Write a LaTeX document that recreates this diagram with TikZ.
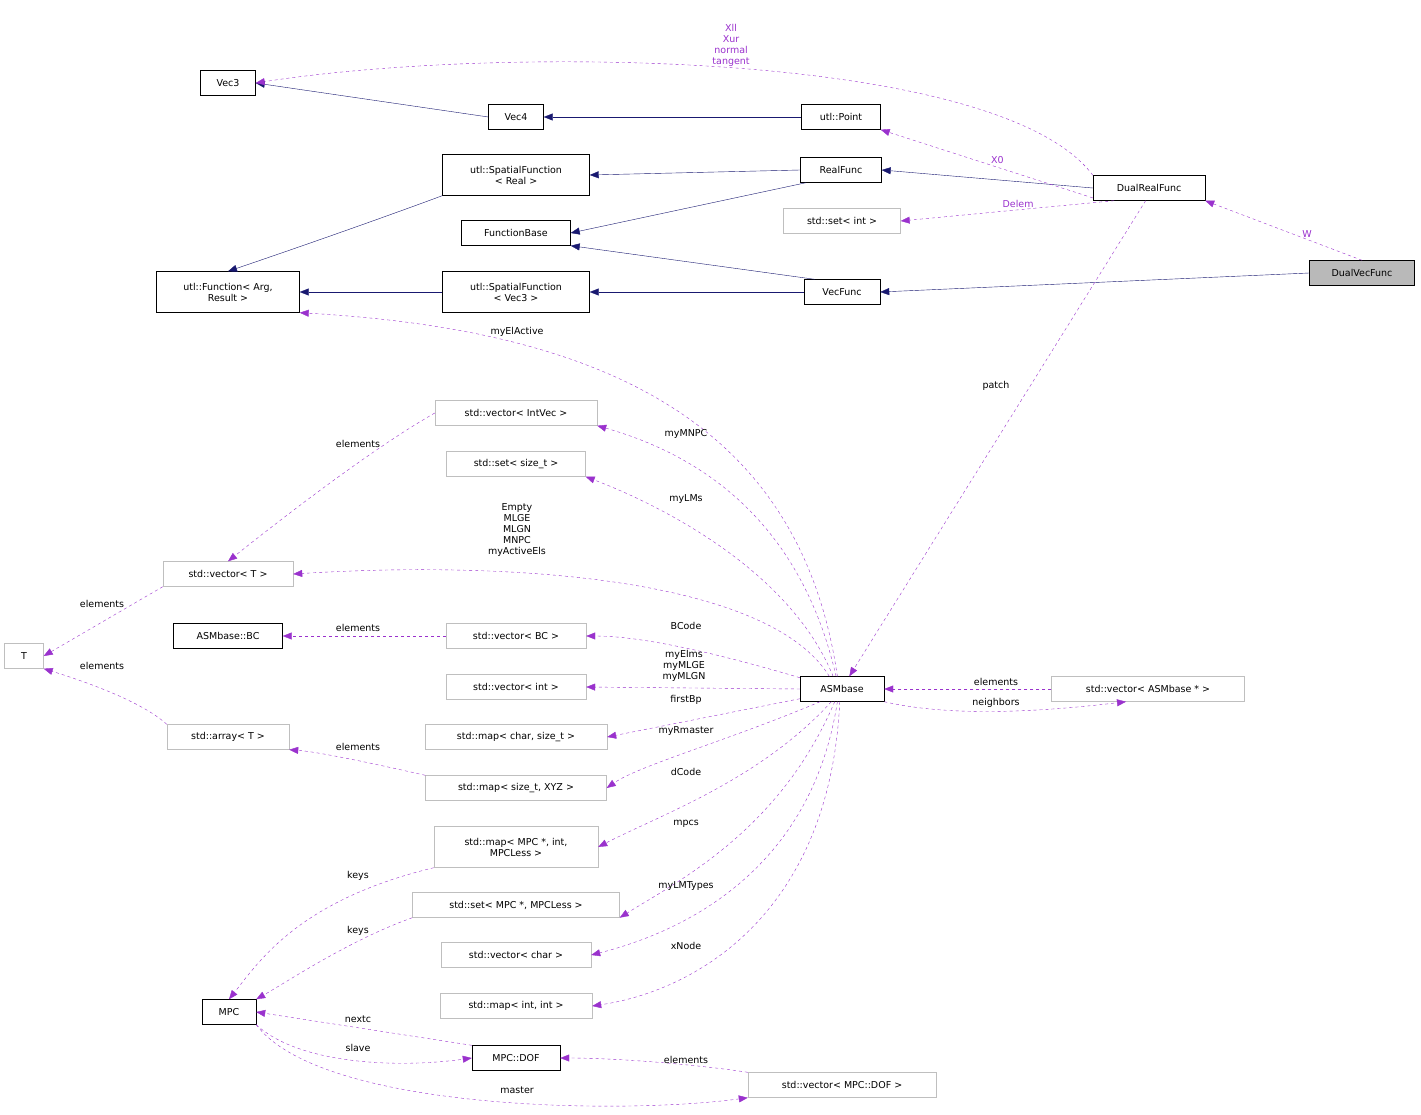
\documentclass[tikz,border=0pt]{standalone}
\usepackage{fontspec}
\setmainfont{DejaVu Sans}
\usetikzlibrary{arrows.meta}
\definecolor{navy}{HTML}{191970}
\definecolor{orch}{HTML}{9A32CD}
\definecolor{gbord}{HTML}{BFBFBF}
\begin{document}
\begin{tikzpicture}[x=1pt,y=-1pt,
  font=\fontsize{9.5}{11}\selectfont,
  cls/.style={draw=black,fill=white,minimum height=25pt,inner sep=2pt,align=center},
  ext/.style={cls,draw=gbord},
  inh/.style={navy,-{Triangle[length=9pt,width=7pt]}},
  use/.style={orch,dashed,-{Triangle[length=9pt,width=7pt]}},
  lbl/.style={inner sep=0pt,align=center,font=\fontsize{9.5}{11}\selectfont}]
\useasboundingbox (0,0) rectangle (1421,1115);
\node[cls,minimum width=55pt] (vec3) at (228,83) {Vec3};
\node[cls,minimum width=55pt] (vec4) at (516,117) {Vec4};
\node[cls,minimum width=79pt] (pt) at (841,117) {utl::Point};
\node[cls,minimum width=147pt,minimum height=41pt] (sfr) at (516,175) {utl::SpatialFunction\\< Real >};
\node[cls,minimum width=81pt] (rf) at (841,170) {RealFunc};
\node[cls,minimum width=112pt] (drf) at (1149,188) {DualRealFunc};
\node[ext,minimum width=117pt] (setint) at (842,221) {std::set< int >};
\node[cls,minimum width=109pt] (fb) at (516,233) {FunctionBase};
\node[cls,fill=gray!55,minimum width=105pt] (dvf) at (1362,273) {DualVecFunc};
\node[cls,minimum width=143pt,minimum height=41pt] (uf) at (228,292) {utl::Function< Arg,\\Result >};
\node[cls,minimum width=147pt,minimum height=41pt] (sfv) at (516,292) {utl::SpatialFunction\\< Vec3 >};
\node[cls,minimum width=76pt] (vf) at (842,292) {VecFunc};
\node[ext,minimum width=162pt] (vii) at (516,413) {std::vector< IntVec >};
\node[ext,minimum width=139pt] (sst) at (516,464) {std::set< size\_t >};
\node[ext,minimum width=130pt] (vT) at (228,574) {std::vector< T >};
\node[ext,minimum width=39pt] (T) at (24,656) {T};
\node[cls,minimum width=109pt] (bc) at (228,636) {ASMbase::BC};
\node[ext,minimum width=140pt] (vbc) at (516,636) {std::vector< BC >};
\node[ext,minimum width=140pt] (vint) at (516,687) {std::vector< int >};
\node[cls,minimum width=84pt] (asm) at (842,689) {ASMbase};
\node[ext,minimum width=193pt] (vasm) at (1148,689) {std::vector< ASMbase * >};
\node[ext,minimum width=122pt] (arr) at (228,737) {std::array< T >};
\node[ext,minimum width=182pt] (mcs) at (516,737) {std::map< char, size\_t >};
\node[ext,minimum width=181pt] (mxyz) at (516,788) {std::map< size\_t, XYZ >};
\node[ext,minimum width=164pt,minimum height=41pt] (mmpc) at (516,847) {std::map< MPC *, int,\\MPCLess >};
\node[ext,minimum width=207pt] (smpc) at (516,905) {std::set< MPC *, MPCLess >};
\node[ext,minimum width=150pt] (vchar) at (516,955) {std::vector< char >};
\node[ext,minimum width=152pt] (mii) at (516,1006) {std::map< int, int >};
\node[cls,minimum width=54pt] (mpc) at (229,1012) {MPC};
\node[cls,minimum width=88pt] (dof) at (516,1058) {MPC::DOF};
\node[ext,minimum width=188pt] (vdof) at (842,1085) {std::vector< MPC::DOF >};
% inheritance
\draw[inh] (vec4.west) -- (vec3.east);
\draw[inh] (pt.west) -- (vec4.east);
\draw[inh] (rf.west) -- (sfr.east);
\draw[inh] (rf.200) -- (fb.east);
\draw[inh] (drf.west) -- (rf.east);
\draw[inh] (sfr.south west) .. controls (390,215) and (320,240) .. (uf.north);
\draw[inh] (sfv.west) -- (uf.east);
\draw[inh] (vf.west) -- (sfv.east);
\draw[inh] (vf.155) -- (fb.south east);
\draw[inh] (dvf.west) -- (vf.east);
% usage
\draw[use] (drf.north west) .. controls (1000,50) and (500,45) .. (vec3.east) node[lbl,pos=0.5,above=1pt] (l1) {Xll\\Xur\\normal\\tangent};
\draw[use] (drf.190) -- (pt.south east) node[lbl,pos=0.45,above=3pt] (l2) {X0};
\draw[use] (drf.200) -- (setint.east) node[lbl,pos=0.45,above=2pt] (l3) {Delem};
\draw[use] (dvf.north) -- (drf.south east) node[lbl,pos=0.35,above=2pt] (l4) {W};
\draw[use] (drf.255) -- (asm.60);
\node[lbl] (l5) at (996,386) {patch};
\draw[use] (asm.110) .. controls (800,420) and (600,330) .. (uf.south east);
\node[lbl] (l6) at (517,332) {myElActive};
\draw[use] (asm.115) .. controls (800,520) and (700,455) .. (vii.south east);
\node[lbl] (l7) at (686,434) {myMNPC};
\draw[use] (asm.125) .. controls (790,570) and (660,505) .. (sst.south east);
\node[lbl] (l8) at (686,499) {myLMs};
\draw[use] (asm.135) .. controls (770,580) and (520,560) .. (vT.east);
\node[lbl] (l9) at (517,530) {Empty\\MLGE\\MLGN\\MNPC\\myActiveEls};
\draw[use] (asm.165) .. controls (740,660) and (650,636) .. (vbc.east);
\node[lbl] (l10) at (686,626) {BCode};
\draw[use] (asm.west) -- (vint.east);
\node[lbl] (l11) at (684,666) {myElms\\myMLGE\\myMLGN};
\draw[use] (asm.193) -- (mcs.east);
\node[lbl] (l12) at (686,700) {firstBp};
\draw[use] (asm.210) .. controls (730,740) and (640,765) .. (mxyz.east);
\node[lbl] (l13) at (686,731) {myRmaster};
\draw[use] (asm.230) .. controls (760,780) and (660,815) .. (mmpc.east);
\node[lbl] (l14) at (686,772) {dCode};
\draw[use] (asm.240) .. controls (780,830) and (680,880) .. (smpc.south east);
\node[lbl] (l15) at (686,824) {mpcs};
\draw[use] (asm.250) .. controls (810,880) and (670,935) .. (vchar.east);
\node[lbl] (l16) at (686,886) {myLMTypes};
\draw[use] (asm.260) .. controls (830,910) and (700,990) .. (mii.east);
\node[lbl] (l17) at (686,946) {xNode};
\draw[use] (vasm.west) -- (asm.east);
\node[lbl] (l18) at (996,682) {elements};
\draw[use] (asm.south east) .. controls (950,717) and (1040,712) .. (vasm.210);
\node[lbl] (l19) at (996,703) {neighbors};
\draw[use] (vii.west) .. controls (370,450) and (280,520) .. (vT.north);
\node[lbl] (l20) at (358,444) {elements};
\draw[use] (vT.south west) -- (T.east);
\node[lbl] (l21) at (102,604) {elements};
\draw[use] (vbc.west) -- (bc.east);
\node[lbl] (l22) at (358,628) {elements};
\draw[use] (arr.north west) .. controls (140,700) and (80,680) .. (T.south east);
\node[lbl] (l23) at (102,666) {elements};
\draw[use] (mxyz.north west) .. controls (380,765) and (320,752) .. (arr.south east);
\node[lbl] (l24) at (358,747) {elements};
\draw[use] (mmpc.south west) .. controls (300,900) and (260,960) .. (mpc.north);
\node[lbl] (l25) at (358,876) {keys};
\draw[use] (smpc.south west) .. controls (350,940) and (290,980) .. (mpc.north east);
\node[lbl] (l26) at (358,931) {keys};
\draw[use] (dof.north west) -- (mpc.east);
\node[lbl] (l27) at (358,1019) {nextc};
\draw[use] (mpc.south east) .. controls (300,1065) and (400,1068) .. (dof.west);
\node[lbl] (l28) at (358,1048) {slave};
\draw[use] (mpc.south east) .. controls (320,1110) and (620,1115) .. (vdof.south west);
\node[lbl] (l29) at (517,1090) {master};
\draw[use] (vdof.north west) .. controls (700,1065) and (620,1058) .. (dof.east);
\node[lbl] (l30) at (686,1060) {elements};
\end{tikzpicture}
\end{document}
